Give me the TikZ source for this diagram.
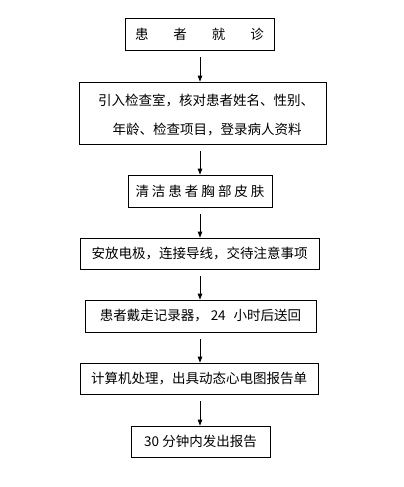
\documentclass[tikz,border=0pt]{standalone}
\usepackage{fontspec}
\setmainfont{Noto Sans CJK SC}
\newfontfamily\cjk{Noto Sans CJK SC}
\usetikzlibrary{arrows.meta}
\begin{document}
\begin{tikzpicture}[x=1pt,y=-1pt,
  box/.style={draw,line width=0.8pt,inner sep=0pt,align=center,font=\cjk\fontsize{13.5}{30}\selectfont},
  arr/.style={line width=0.8pt,-{Triangle[width=4.5pt,length=6pt]},shorten <=7pt}]
\useasboundingbox (0,0) rectangle (404,487);
\node[box,minimum width=149pt,minimum height=32pt] (b1) at (199.5,34) {患\hspace{25pt}者\hspace{25pt}就\hspace{25pt}诊};
\node[box,minimum width=247pt,minimum height=62pt] (b2) at (202.5,113) {};
\node[font=\cjk\fontsize{13.5}{16}\selectfont,inner sep=0pt] (t2a) at (206,100) {引入检查室，核对患者姓名、性别、};
\node[font=\cjk\fontsize{13.5}{16}\selectfont,inner sep=0pt] (t2b) at (207,130) {年龄、检查项目，登录病人资料};
\node[box,minimum width=144pt,minimum height=32pt] (b3) at (200,191) {清\hspace{3pt}洁\hspace{3pt}患\hspace{3pt}者\hspace{3pt}胸\hspace{3pt}部\hspace{3pt}皮\hspace{3pt}肤};
\node[box,minimum width=239pt,minimum height=31pt] (b4) at (199.5,253.5) {安放电极，连接导线，交待注意事项};
\node[box,minimum width=231pt,minimum height=32pt] (b5) at (200.5,316) {患者戴走记录器，\hspace{3pt}24\hspace{8pt}小时后送回};
\node[box,minimum width=238pt,minimum height=31pt] (b6) at (199,378.5) {计算机处理，出具动态心电图报告单};
\node[box,minimum width=139pt,minimum height=31pt] (b7) at (200.5,441.5) {30 分钟内发出报告};
\coordinate (ax) at (200,0);
\draw[arr] (b1.south -| ax) -- (b2.north -| ax);
\draw[arr] (b2.south -| ax) -- (b3.north -| ax);
\draw[arr] (b3.south -| ax) -- (b4.north -| ax);
\draw[arr] (b4.south -| ax) -- (b5.north -| ax);
\draw[arr] (b5.south -| ax) -- (b6.north -| ax);
\draw[arr] (b6.south -| ax) -- (b7.north -| ax);
\end{tikzpicture}
\end{document}
